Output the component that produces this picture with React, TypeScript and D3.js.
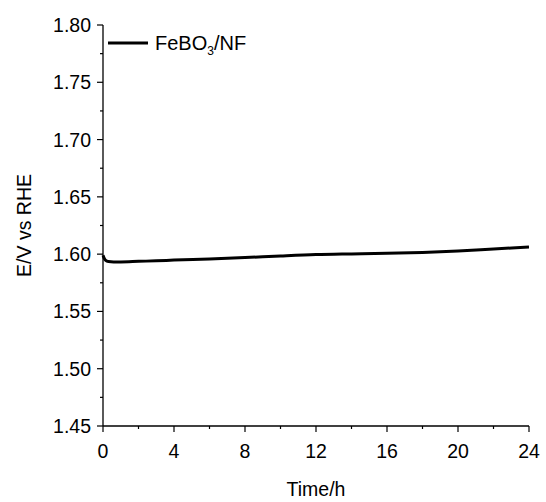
import React from 'react'
import * as d3 from 'd3'

// time (h) and potential (V vs RHE)
const timeH = [0, 0.05, 0.15, 0.3, 0.6, 1, 2, 3, 4, 6, 8, 10, 12, 14, 16, 18, 20, 22, 24]
const potential = [1.599, 1.597, 1.5945, 1.5935, 1.5932, 1.5932, 1.5937, 1.5942, 1.5948, 1.5958, 1.597, 1.5984, 1.5996, 1.6002, 1.6007, 1.6015, 1.6028, 1.6045, 1.6062]
const xTicks = [0, 4, 8, 12, 16, 20, 24]
const yTicks = [1.45, 1.5, 1.55, 1.6, 1.65, 1.7, 1.75, 1.8]

const width = 546
const height = 502
const left = 103
const right = 529
const top = 25
const bottom = 426
const font = 'Liberation Sans, Arial, sans-serif'

const App = () => {
  const x = d3.scaleLinear().domain([0, 24]).range([left, right])
  const y = d3.scaleLinear().domain([1.45, 1.8]).range([bottom, top])
  const line = d3
    .line<number>()
    .x((_, i) => x(timeH[i]))
    .y(d => y(d))
    .curve(d3.curveMonotoneX)

  const xMinor = d3.range(2, 24, 4)
  const yMinor = d3.range(1.475, 1.8, 0.05)

  return (
    <svg width={width} height={height} style={{ position: 'absolute', left: 0, top: 0 }}>
      <rect width={width} height={height} fill="#fff" />
      {/* axes */}
      <line x1={left} x2={left} y1={top} y2={bottom} stroke="#000" strokeWidth={1.3} />
      <line x1={left} x2={right} y1={bottom} y2={bottom} stroke="#000" strokeWidth={1.3} />
      {yTicks.map(t => (
        <g key={t}>
          <line x1={left - 6} x2={left} y1={y(t)} y2={y(t)} stroke="#000" strokeWidth={1.2} />
          <text x={left - 12} y={y(t) + 7} textAnchor="end" fontFamily={font} fontSize={19.5}>
            {t.toFixed(2)}
          </text>
        </g>
      ))}
      {yMinor.map(t => (
        <line key={t} x1={left - 3} x2={left} y1={y(t)} y2={y(t)} stroke="#000" strokeWidth={1.2} />
      ))}
      {xTicks.map(t => (
        <g key={t}>
          <line x1={x(t)} x2={x(t)} y1={bottom} y2={bottom + 6} stroke="#000" strokeWidth={1.2} />
          <text x={x(t)} y={bottom + 32} textAnchor="middle" fontFamily={font} fontSize={19.5}>
            {t}
          </text>
        </g>
      ))}
      {xMinor.map(t => (
        <line key={t} x1={x(t)} x2={x(t)} y1={bottom} y2={bottom + 3} stroke="#000" strokeWidth={1.2} />
      ))}
      <text x={(left + right) / 2} y={496} textAnchor="middle" fontFamily={font} fontSize={19.5}>
        Time/h
      </text>
      <text
        transform={`translate(31,${(top + bottom) / 2}) rotate(-90)`}
        textAnchor="middle"
        fontFamily={font}
        fontSize={19.5}
      >
        E/V vs RHE
      </text>
      {/* data */}
      <path d={line(potential) || ''} fill="none" stroke="#000" strokeWidth={3} />
      {/* legend */}
      <line x1={108} x2={148} y1={43} y2={43} stroke="#000" strokeWidth={3} />
      <text x={155} y={50} fontFamily={font} fontSize={20}>
        FeBO<tspan fontSize={12} dy={5}>3</tspan>
        <tspan dy={-5}>/NF</tspan>
      </text>
    </svg>
  )
}

export default App
